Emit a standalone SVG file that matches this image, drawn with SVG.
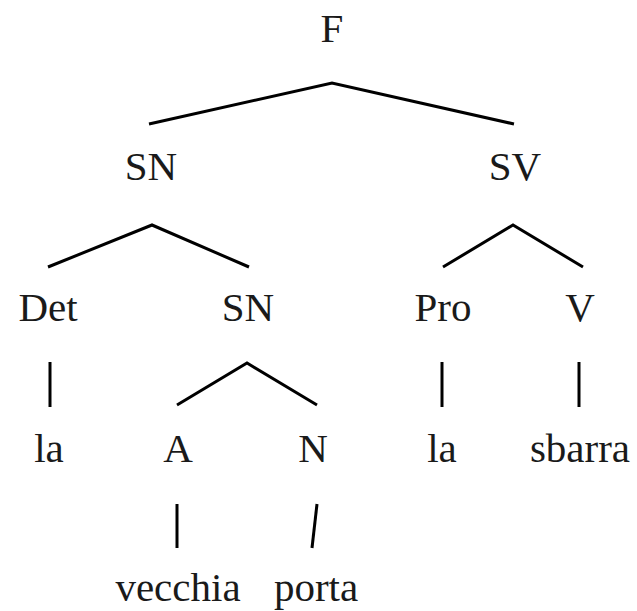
<svg xmlns="http://www.w3.org/2000/svg" width="637" height="611" viewBox="0 0 637 611">
<style>
text{font-family:"Liberation Serif","Times New Roman",serif;font-size:41px;fill:#1a1a1a;text-anchor:middle}
.e{stroke:#000;stroke-width:3;fill:none;stroke-linecap:butt;stroke-linejoin:miter}
</style>
<rect width="637" height="611" fill="#fff"/>
<g id="connectors">
<polyline class="e" points="149,124 332,83 514,124"/>
<polyline class="e" points="48,267 152,225 249,267"/>
<polyline class="e" points="443,267 513,225 583,267"/>
<line class="e" x1="50" y1="362" x2="50" y2="407"/>
<polyline class="e" points="177,405 247,363 317,405"/>
<line class="e" x1="442" y1="362" x2="442" y2="407"/>
<line class="e" x1="579" y1="362" x2="579" y2="407"/>
<line class="e" x1="177" y1="504" x2="177" y2="548"/>
<line class="e" x1="317" y1="504" x2="312" y2="548"/>
</g>
<g id="n-F"><text x="332" y="42">F</text></g>
<g id="n-SN1"><text x="151" y="180">SN</text></g>
<g id="n-SV"><text x="515" y="180">SV</text></g>
<g id="n-Det"><text x="48" y="321">Det</text></g>
<g id="n-SN2"><text x="248" y="321">SN</text></g>
<g id="n-Pro"><text x="443" y="321">Pro</text></g>
<g id="n-V"><text x="580" y="321">V</text></g>
<g id="n-la1"><text x="49" y="462">la</text></g>
<g id="n-A"><text x="178" y="462">A</text></g>
<g id="n-N"><text x="313" y="462">N</text></g>
<g id="n-la2"><text x="442" y="462">la</text></g>
<g id="n-sbarra"><text x="580" y="462">sbarra</text></g>
<g id="n-vecchia"><text x="178" y="601">vecchia</text></g>
<g id="n-porta"><text x="316" y="601">porta</text></g>
</svg>
